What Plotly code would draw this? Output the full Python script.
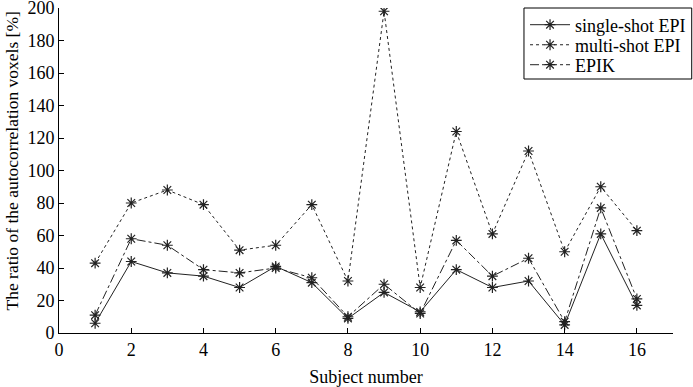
import plotly.graph_objects as go

subjects = list(range(1, 17))
single_shot = [6, 44, 37, 35, 28, 41, 31, 9, 25, 13, 39, 28, 32, 5, 61, 17]
multi_shot = [43, 80, 88, 79, 51, 54, 79, 32, 198, 28, 124, 61, 112, 50, 90, 63]
epik = [11, 58, 54, 39, 37, 40, 34, 10, 30, 12, 57, 35, 46, 7, 77, 21]

series_names = ["single-shot EPI", "multi-shot EPI", "EPIK"]
x_ticks = [0, 2, 4, 6, 8, 10, 12, 14, 16]
y_ticks = [0, 20, 40, 60, 80, 100, 120, 140, 160, 180, 200]
x_title = "Subject number"
y_title = "The ratio of the autocorrelation voxels [%]"

FONT = "Liberation Serif"
INK = "#222222"

fig = go.Figure()
legend_ids = ["legend", "legend2", "legend3"]
for name, vals, dash, lg in zip(series_names, [single_shot, multi_shot, epik],
                                 ["solid", "dot", "dashdot"], legend_ids):
    fig.add_trace(go.Scatter(
        x=subjects, y=vals, name=name, mode="lines+markers", legend=lg,
        line=dict(color=INK, width=1, dash=dash),
        marker=dict(symbol="asterisk-open", size=9, line=dict(color=INK, width=1.2), color=INK),
    ))

row_y = [0.9477, 0.886, 0.8246]
legend_common = dict(
    x=0.759, xanchor="left", yanchor="middle",
    bgcolor="rgba(0,0,0,0)", borderwidth=0,
    font=dict(family=FONT, size=18, color="black"),
    itemwidth=40,
)
fig.update_layout(
    width=693, height=387,
    margin=dict(l=59, r=20, t=8, b=54, autoexpand=False),
    paper_bgcolor="white", plot_bgcolor="white",
    font=dict(family=FONT, size=18, color="black"),
    showlegend=True,
    legend=dict(y=row_y[0], **legend_common),
    legend2=dict(y=row_y[1], **legend_common),
    legend3=dict(y=row_y[2], **legend_common),
    shapes=[dict(type="rect", xref="paper", yref="paper",
                 x0=0.7573, x1=1.0305, y0=0.7815, y1=1.0,
                 line=dict(color="black", width=1), fillcolor="white", layer="above")],
    annotations=[dict(text=y_title, textangle=-90, xref="paper", yref="paper",
                      x=-0.0765, y=0.5277, xanchor="center", yanchor="middle",
                      showarrow=False, font=dict(family=FONT, size=17.5, color="black"))],
)
fig.update_xaxes(
    range=[0, 17], tickvals=x_ticks, showline=True, linecolor="black", linewidth=1,
    ticks="inside", ticklen=5, tickcolor="black", showgrid=False, zeroline=False,
    automargin=False, ticklabeloverflow="allow",
    title=dict(text=x_title, standoff=12, font=dict(family=FONT, size=18)),
    tickfont=dict(family=FONT, size=18),
)
fig.update_yaxes(
    range=[0, 200], tickvals=y_ticks, showline=True, linecolor="black", linewidth=1,
    ticks="inside", ticklen=5, tickcolor="black", showgrid=False, zeroline=False,
    automargin=False, ticklabeloverflow="allow",
    tickfont=dict(family=FONT, size=18),
)

fig.write_html("out.html", config={"displayModeBar": False},
               post_script="document.body.style.margin='0';document.body.style.padding='0';")
